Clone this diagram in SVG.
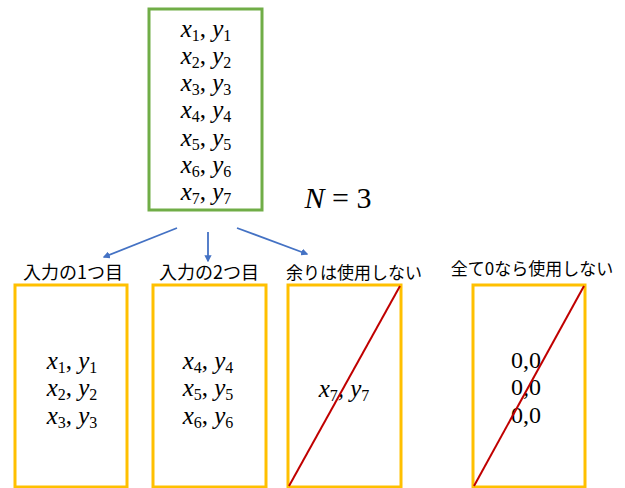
<svg xmlns="http://www.w3.org/2000/svg" width="625" height="488" viewBox="0 0 625 488">
<defs>
<style>
.g{fill:#fff;stroke:#70AD47;stroke-width:3}
.o{fill:#fff;stroke:#FFC000;stroke-width:3}
.r{stroke:#C00000;stroke-width:2}
.c{stroke:#4472C4;stroke-width:1.8;fill:none;marker-end:url(#ah)}
.m{font-family:"Liberation Serif",serif;font-size:25px;fill:#000;text-anchor:middle}
.i{font-style:italic}
.s{font-size:16px;font-style:normal}
.j{font-family:"Noto Sans CJK JP","Noto Sans",sans-serif;font-size:17px;fill:#000;text-anchor:middle}
</style>
<marker id="ah" viewBox="0 0 10 10" refX="8" refY="5" markerWidth="4" markerHeight="4" orient="auto"><path d="M0,0 L10,5 L0,10 z" fill="#4472C4"/></marker>
</defs>
<g id="source">
<rect class="g" x="149" y="9" width="113" height="201"/>
<text class="m"><tspan x="206" y="37"><tspan class="i">x</tspan><tspan class="s" dy="4">1</tspan><tspan dy="-4">, </tspan><tspan class="i">y</tspan><tspan class="s" dy="4">1</tspan></tspan></text>
<text class="m"><tspan x="206" y="64"><tspan class="i">x</tspan><tspan class="s" dy="4">2</tspan><tspan dy="-4">, </tspan><tspan class="i">y</tspan><tspan class="s" dy="4">2</tspan></tspan></text>
<text class="m"><tspan x="206" y="91"><tspan class="i">x</tspan><tspan class="s" dy="4">3</tspan><tspan dy="-4">, </tspan><tspan class="i">y</tspan><tspan class="s" dy="4">3</tspan></tspan></text>
<text class="m"><tspan x="206" y="118"><tspan class="i">x</tspan><tspan class="s" dy="4">4</tspan><tspan dy="-4">, </tspan><tspan class="i">y</tspan><tspan class="s" dy="4">4</tspan></tspan></text>
<text class="m"><tspan x="206" y="146"><tspan class="i">x</tspan><tspan class="s" dy="4">5</tspan><tspan dy="-4">, </tspan><tspan class="i">y</tspan><tspan class="s" dy="4">5</tspan></tspan></text>
<text class="m"><tspan x="206" y="173"><tspan class="i">x</tspan><tspan class="s" dy="4">6</tspan><tspan dy="-4">, </tspan><tspan class="i">y</tspan><tspan class="s" dy="4">6</tspan></tspan></text>
<text class="m"><tspan x="206" y="200"><tspan class="i">x</tspan><tspan class="s" dy="4">7</tspan><tspan dy="-4">, </tspan><tspan class="i">y</tspan><tspan class="s" dy="4">7</tspan></tspan></text>
</g>
<g id="n-label">
<text class="m" x="338" y="208" style="font-size:30px"><tspan class="i">N</tspan> = 3</text>
</g>
<g id="connectors">
<line class="c" x1="177" y1="228" x2="104" y2="257"/>
<line class="c" x1="208" y1="232" x2="208" y2="261"/>
<line class="c" x1="237" y1="228" x2="307" y2="254"/>
</g>
<g id="input1">
<text class="j" x="73" y="279" style="font-size:18px">入力の1つ目</text>
<rect class="o" x="15" y="285" width="112" height="202"/>
<text class="m"><tspan x="72" y="369"><tspan class="i">x</tspan><tspan class="s" dy="4">1</tspan><tspan dy="-4">, </tspan><tspan class="i">y</tspan><tspan class="s" dy="4">1</tspan></tspan></text>
<text class="m"><tspan x="72" y="396"><tspan class="i">x</tspan><tspan class="s" dy="4">2</tspan><tspan dy="-4">, </tspan><tspan class="i">y</tspan><tspan class="s" dy="4">2</tspan></tspan></text>
<text class="m"><tspan x="72" y="424"><tspan class="i">x</tspan><tspan class="s" dy="4">3</tspan><tspan dy="-4">, </tspan><tspan class="i">y</tspan><tspan class="s" dy="4">3</tspan></tspan></text>
</g>
<g id="input2">
<text class="j" x="209" y="279" style="font-size:18px">入力の2つ目</text>
<rect class="o" x="153" y="285" width="113" height="202"/>
<text class="m"><tspan x="208" y="369"><tspan class="i">x</tspan><tspan class="s" dy="4">4</tspan><tspan dy="-4">, </tspan><tspan class="i">y</tspan><tspan class="s" dy="4">4</tspan></tspan></text>
<text class="m"><tspan x="208" y="396"><tspan class="i">x</tspan><tspan class="s" dy="4">5</tspan><tspan dy="-4">, </tspan><tspan class="i">y</tspan><tspan class="s" dy="4">5</tspan></tspan></text>
<text class="m"><tspan x="208" y="424"><tspan class="i">x</tspan><tspan class="s" dy="4">6</tspan><tspan dy="-4">, </tspan><tspan class="i">y</tspan><tspan class="s" dy="4">6</tspan></tspan></text>
</g>
<g id="remainder">
<text class="j" x="354" y="279">余りは使用しない</text>
<rect class="o" x="288" y="285" width="113" height="202"/>
<text class="m"><tspan x="344" y="397"><tspan class="i">x</tspan><tspan class="s" dy="4">7</tspan><tspan dy="-4">, </tspan><tspan class="i">y</tspan><tspan class="s" dy="4">7</tspan></tspan></text>
<line class="r" x1="289" y1="486" x2="400" y2="286"/>
</g>
<g id="zeros">
<text class="j" x="532" y="275">全て0なら使用しない</text>
<rect class="o" x="473" y="285" width="112" height="202"/>
<text class="m" x="526" y="368" style="font-size:24px">0,0</text>
<text class="m" x="526" y="395" style="font-size:24px">0,0</text>
<text class="m" x="526" y="423" style="font-size:24px">0,0</text>
<line class="r" x1="474" y1="486" x2="584" y2="286"/>
</g>
</svg>
